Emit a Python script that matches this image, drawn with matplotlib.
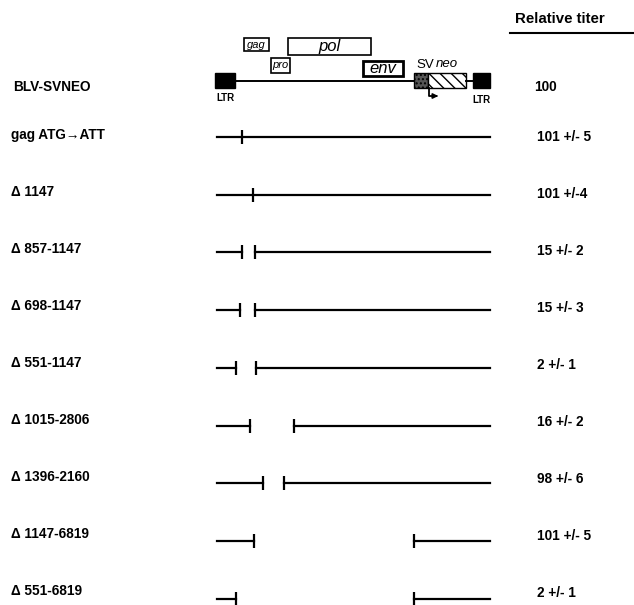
import matplotlib.pyplot as plt
from matplotlib.patches import Rectangle, FancyArrowPatch

plt.rcParams['font.family'] = ['Liberation Sans', 'DejaVu Sans']

# constructs, titers and map breakpoints (map units along the provirus drawing)
constructs = ['gag ATG\u2192ATT', '\u0394 1147', '\u0394 857-1147', '\u0394 698-1147',
              '\u0394 551-1147', '\u0394 1015-2806', '\u0394 1396-2160',
              '\u0394 1147-6819', '\u0394 551-6819']
titers = ['101 +/- 5', '101 +/-4', '15 +/- 2', '15 +/- 3', '2 +/- 1',
          '16 +/- 2', '98 +/- 6', '101 +/- 5', '2 +/- 1']
point_marks = [242, 253, None, None, None, None, None, None, None]
left_ends = [None, None, 242, 240, 236, 250, 263, 254, 236]
right_starts = [None, None, 255, 255, 256, 294, 284, 414, 414]
map_start, map_end = 217, 490

# parental vector elements
genes = ['gag', 'pol', 'pro', 'env']
gene_start = [244, 288, 271, 363]
gene_end = [269, 371, 290, 403]
gene_row = [0, 0, 1, 1]

fig = plt.figure(figsize=(6.34, 6.05), dpi=100)
ax = fig.add_axes([0, 0, 1, 1])
ax.set_xlim(0, 634)
ax.set_ylim(605, 0)
ax.axis('off')

fs = 9.8
# header
ax.text(515, 19, 'Relative titer', fontsize=10.8, fontweight='bold', va='center')
ax.plot([510, 634], [33, 33], color='black', lw=1.5)

# parental BLV-SVNEO
ax.text(13, 87, 'BLV-SVNEO', fontsize=fs, fontweight='bold', va='center')
ax.text(534, 87, '100', fontsize=fs, fontweight='bold', va='center')
ax.plot([235, 414], [81, 81], color='black', lw=1.4)
ax.plot([466, 473], [81, 81], color='black', lw=1.4)
ax.add_patch(Rectangle((215, 73), 20, 15, facecolor='black', edgecolor='black'))
ax.add_patch(Rectangle((473, 73), 17, 15, facecolor='black', edgecolor='black'))
ax.add_patch(Rectangle((414, 73), 14, 15, facecolor='#555555', edgecolor='black',
                       hatch='....', lw=1))
ax.add_patch(Rectangle((428, 73), 38, 15, facecolor='white', edgecolor='black',
                       hatch='\\\\\\', lw=1))
ax.text(225, 98, 'LTR', fontsize=7, fontweight='bold', ha='center', va='center')
ax.text(481, 100, 'LTR', fontsize=7, fontweight='bold', ha='center', va='center')
ax.text(416, 65, 'SV', fontsize=9.5, va='center')
ax.text(436, 64, 'neo', fontsize=9.5, style='italic', va='center')
ax.plot([429, 429, 434], [88, 96, 96], color='black', lw=1.3)
ax.add_patch(FancyArrowPatch((433, 96), (441, 96), arrowstyle='-|>',
                             mutation_scale=7, color='black', lw=1.3))

row_top = [38, 58]
row_h = [17, 15]
for g, s, e, r in zip(genes, gene_start, gene_end, gene_row):
    y0 = row_top[r] + (3 if g == 'env' else 0)
    h = 13 if g == 'gag' else (row_h[r])
    lw = 2 if g == 'env' else 1.2
    ax.add_patch(Rectangle((s, y0), e - s, h, facecolor='white', edgecolor='black', lw=lw))
    size = 12 if g in ('pol', 'env') else 8
    ax.text((s + e) / 2, y0 + h / 2, g, fontsize=size, style='italic',
            ha='center', va='center')

# mutant rows
for i, name in enumerate(constructs):
    y = 137 + i * 57.7
    ax.text(11, 135 + i * 57, name, fontsize=fs, fontweight='bold', va='center')
    ax.text(537, 137 + i * 57, titers[i], fontsize=fs, fontweight='bold', va='center')
    if point_marks[i] is not None:
        ax.plot([map_start, map_end], [y, y], color='black', lw=1.6)
        ax.vlines(point_marks[i], y - 7, y + 7, color='black', lw=1.6)
    else:
        ax.plot([map_start, left_ends[i]], [y, y], color='black', lw=1.6)
        ax.vlines(left_ends[i], y - 7, y + 7, color='black', lw=1.6)
        ax.plot([right_starts[i], map_end], [y, y], color='black', lw=1.6)
        ax.vlines(right_starts[i], y - 7, y + 7, color='black', lw=1.6)

fig.savefig('out.png', dpi=100)
